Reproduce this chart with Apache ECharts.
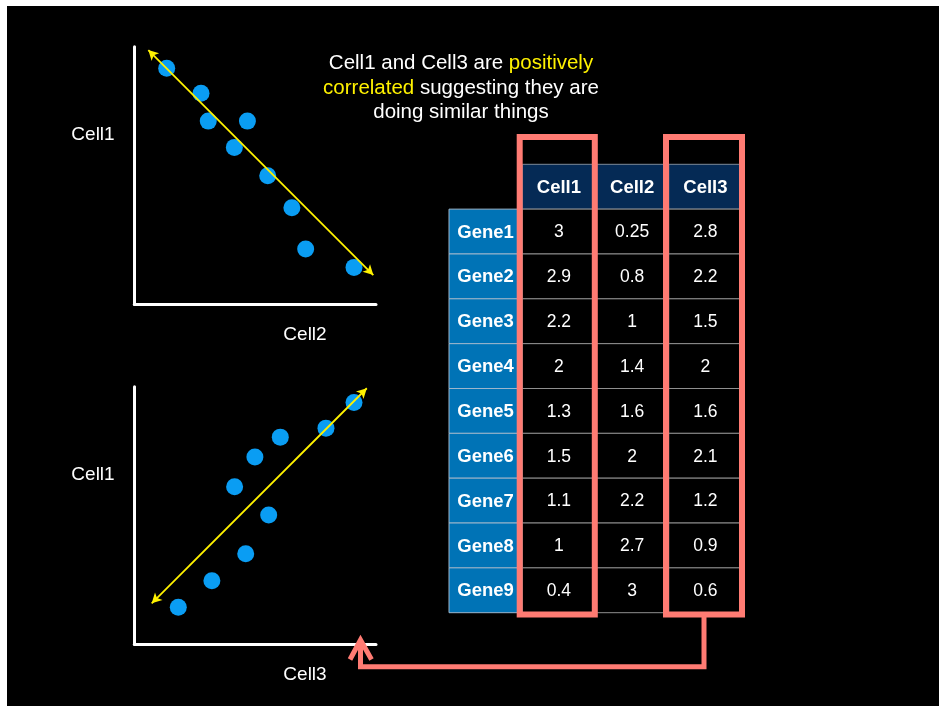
<!DOCTYPE html>
<html><head><meta charset="utf-8">
<script src="https://cdn.jsdelivr.net/npm/echarts@6/dist/echarts.min.js"></script>
<style>
html,body{margin:0;padding:0;background:#fff;}
#bg{position:absolute;left:7px;top:6px;width:932px;height:700px;background:#000;}
#chart{position:absolute;left:0;top:0;width:939px;height:706px;}
</style></head><body>
<div id="bg"></div><div id="chart"></div>
<script>
// Top scatter (x = Cell2, y = Cell1) (arbitrary 0-10 units)
const topX = [1.34, 2.76, 3.06, 4.68, 4.14, 5.52, 6.52, 7.09, 9.09];
const topY = [9.16, 8.19, 7.11, 7.11, 6.09, 4.99, 3.75, 2.14, 1.43];
const topFit = [[0.58, 9.87], [9.89, 1.13]];
// Bottom scatter (x = Cell3, y = Cell1)
const botX = [1.82, 3.21, 4.61, 5.56, 4.15, 4.99, 6.04, 7.93, 9.09];
const botY = [1.43, 2.46, 3.51, 5.01, 6.11, 7.27, 8.04, 8.39, 9.39];
const botFit = [[0.72, 1.58], [9.62, 9.94]];
// Table
const genes = ['Gene1','Gene2','Gene3','Gene4','Gene5','Gene6','Gene7','Gene8','Gene9'];
const cells = ['Cell1','Cell2','Cell3'];
const cell1 = [3, 2.9, 2.2, 2, 1.3, 1.5, 1.1, 1, 0.4];
const cell2 = [0.25, 0.8, 1, 1.4, 1.6, 2, 2.2, 2.7, 3];
const cell3 = [2.8, 2.2, 1.5, 2, 1.6, 2.1, 1.2, 0.9, 0.6];
const axisLabels = ['Cell1', 'Cell2', 'Cell1', 'Cell3'];

const FONT = '"Liberation Sans", Arial, Helvetica, sans-serif';
const BLUE = '#0A9DF3';
const YEL = '#FFF200';
const RED = '#FF7B73';

const meta = [];
cells.forEach((c, j) => meta.push([j + 1, 0, c, 0]));
genes.forEach((g, i) => {
  meta.push([0, i + 1, g, 1]);
  [cell1, cell2, cell3].forEach((arr, j) => meta.push([j + 1, i + 1, String(arr[i]), 2]));
});

function scatterAxes(gi) {
  return {
    type: 'value', min: 0, max: 10, gridIndex: gi,
    axisLine: { show: true, onZero: false, lineStyle: { color: '#fff', width: 3 } },
    axisTick: { show: false }, axisLabel: { show: false }, splitLine: { show: false }
  };
}

const chart = echarts.init(document.getElementById('chart'), null, { renderer: 'canvas' });
chart.setOption({
  backgroundColor: 'transparent',
  animation: false,
  grid: [
    { left: 134.3, top: 46.7, width: 241.7, height: 257.5 },
    { left: 134.3, top: 386.7, width: 241.7, height: 257.3 },
    { left: 449, top: 164.3, width: 293, height: 448.4 }
  ],
  xAxis: [
    scatterAxes(0), scatterAxes(1),
    { type: 'category', gridIndex: 2, data: [''].concat(cells), show: false }
  ],
  yAxis: [
    scatterAxes(0), scatterAxes(1),
    { type: 'category', gridIndex: 2, data: [''].concat(genes), inverse: true, show: false }
  ],
  series: [
    {
      type: 'scatter', xAxisIndex: 0, yAxisIndex: 0, symbolSize: 17,
      itemStyle: { color: BLUE, opacity: 1 },
      data: topX.map((x, i) => [x, topY[i]]),
      markLine: {
        silent: true, symbol: ['arrow', 'arrow'], symbolSize: [8, 10],
        label: { show: false },
        lineStyle: { color: YEL, width: 1.8, type: 'solid' },
        data: [[{ coord: topFit[0] }, { coord: topFit[1] }]]
      }
    },
    {
      type: 'scatter', xAxisIndex: 1, yAxisIndex: 1, symbolSize: 17,
      itemStyle: { color: BLUE, opacity: 1 },
      data: botX.map((x, i) => [x, botY[i]]),
      markLine: {
        silent: true, symbol: ['arrow', 'arrow'], symbolSize: [8, 10],
        label: { show: false },
        lineStyle: { color: YEL, width: 1.8, type: 'solid' },
        data: [[{ coord: botFit[0] }, { coord: botFit[1] }]]
      }
    },
    {
      type: 'custom', xAxisIndex: 2, yAxisIndex: 2,
      data: meta.map(m => [m[0], m[1]]),
      renderItem: function (params, api) {
        const m = meta[params.dataIndex];
        const c = api.coord([api.value(0), api.value(1)]);
        const s = api.size([1, 1]);
        let fill = '#000', stroke = '#8f8f8f', weight = 'normal', size = 17.5;
        if (m[3] === 0) { fill = '#052A55'; stroke = '#7f8a99'; weight = 'bold'; size = 18.5; }
        if (m[3] === 1) { fill = '#0073B6'; stroke = '#9cb6cc'; weight = 'bold'; size = 18.5; }
        return {
          type: 'group',
          children: [
            { type: 'rect', shape: { x: c[0] - s[0] / 2, y: c[1] - s[1] / 2, width: s[0], height: s[1] },
              style: { fill: fill, stroke: stroke, lineWidth: 1 } },
            { type: 'text', x: c[0], y: c[1] + 1,
              style: { text: m[2], fill: '#fff', fontSize: size, fontWeight: weight, fontFamily: FONT,
                       align: 'center', verticalAlign: 'middle' } }
          ]
        };
      }
    }
  ],
  graphic: [
    { type: 'text', x: 93, y: 135, style: { text: axisLabels[0], fill: '#fff', font: '19px ' + FONT, textAlign: 'center', textVerticalAlign: 'middle' } },
    { type: 'text', x: 305, y: 335, style: { text: axisLabels[1], fill: '#fff', font: '19px ' + FONT, textAlign: 'center', textVerticalAlign: 'middle' } },
    { type: 'text', x: 93, y: 475, style: { text: axisLabels[2], fill: '#fff', font: '19px ' + FONT, textAlign: 'center', textVerticalAlign: 'middle' } },
    { type: 'text', x: 305, y: 675, style: { text: axisLabels[3], fill: '#fff', font: '19px ' + FONT, textAlign: 'center', textVerticalAlign: 'middle' } },
    { type: 'text', x: 461, y: 88,
      style: {
        text: '{w|Cell1 and Cell3 are }{y|positively}\n{y|correlated}{w| suggesting they are}\n{w|doing similar things}',
        textAlign: 'center', textVerticalAlign: 'middle',
        rich: {
          w: { fill: '#fff', fontSize: 20.5, fontFamily: FONT, lineHeight: 24.5 },
          y: { fill: YEL, fontSize: 20.5, fontFamily: FONT, lineHeight: 24.5 }
        }
      } },
    { type: 'rect', z: 100, shape: { x: 519.7, y: 137, width: 75.1, height: 477.5 },
      style: { fill: 'none', stroke: RED, lineWidth: 6 } },
    { type: 'rect', z: 100, shape: { x: 666, y: 137, width: 76, height: 477.5 },
      style: { fill: 'none', stroke: RED, lineWidth: 6 } },
    { type: 'polyline', z: 100, shape: { points: [[704, 617], [704, 666.8], [360.5, 666.8], [360.5, 641]] },
      style: { fill: 'none', stroke: RED, lineWidth: 5 } },
    { type: 'polyline', z: 100, shape: { points: [[350, 659.5], [360.5, 640], [371.5, 659.5]] },
      style: { fill: 'none', stroke: RED, lineWidth: 5 } }
  ]
});
</script>
</body></html>
